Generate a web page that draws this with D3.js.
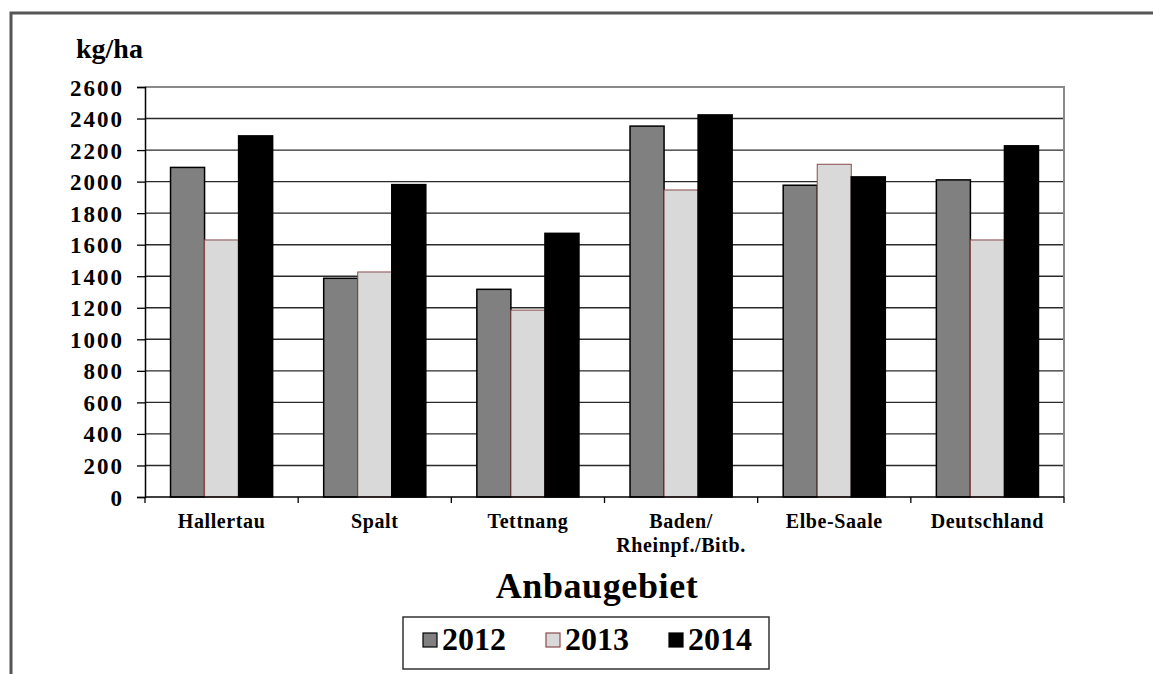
<!DOCTYPE html>
<html>
<head>
<meta charset="utf-8">
<script src="https://cdn.jsdelivr.net/npm/d3@7"></script>
<style>
    body { margin: 0; background: #fff; }
    text { font-family: "Liberation Serif", "Times New Roman", serif; font-weight: bold; fill: #000; }
</style>
</head>
<body>
<div id="chart-area"></div>
<script>

// DATA (kg/ha)
let regions = ["Hallertau", "Spalt", "Tettnang", "Baden/\nRheinpf./Bitb.", "Elbe-Saale", "Deutschland"]
let years = ["2012", "2013", "2014"]
let values2012 = [2090, 1387, 1317, 2352, 1977, 2011]
let values2013 = [1630, 1427, 1185, 1947, 2110, 1630]
let values2014 = [2290, 1981, 1672, 2423, 2030, 2227]
let yTicks = [0, 200, 400, 600, 800, 1000, 1200, 1400, 1600, 1800, 2000, 2200, 2400, 2600]

let seriesValues = {"2012": values2012, "2013": values2013, "2014": values2014}
let fills = {"2012": "#808080", "2013": "#d9d9d9", "2014": "#000000"}
let strokes = {"2012": "#000000", "2013": "#8b4b4b", "2014": "#000000"}

// margin conventions
let margin = {top: 87, right: 89, bottom: 177, left: 145},
    width = 1153 - margin.left - margin.right,
    height = 674 - margin.top - margin.bottom;

let root = d3.select("#chart-area").append("svg")
    .attr("width", 1153)
    .attr("height", 674)

// outer frame (only top and left visible)
root.append("path")
    .attr("d", "M11,674 V13 H1153")
    .attr("fill", "none")
    .attr("stroke", "#555")
    .attr("stroke-width", 3)

let svg = root.append("g")
    .attr("transform", "translate(" + margin.left + "," + margin.top + ")");

let x0 = d3.scaleBand().domain(regions).range([0, width])
let x1 = d3.scaleBand().domain(years).range([0, x0.bandwidth()]).paddingOuter(0.75)
let y = d3.scaleLinear().domain([0, 2600]).range([height, 0])

// gridlines
svg.selectAll(".grid").data(yTicks.filter(t => t > 0 && t < 2600))
    .enter().append("line")
    .attr("class", "grid")
    .attr("x1", 0).attr("x2", width)
    .attr("y1", d => y(d)).attr("y2", d => y(d))
    .attr("stroke", "#2a2a2a")
    .attr("stroke-width", 1.4)

// plot border top + right
svg.append("path")
    .attr("d", "M0," + y(2600) + " H" + width + " V" + height)
    .attr("fill", "none")
    .attr("stroke", "#8a8a8a")
    .attr("stroke-width", 2)

// bars
let rows = []
regions.forEach(function (r, i) {
    years.forEach(function (yr) {
        rows.push({region: r, year: yr, value: seriesValues[yr][i]})
    })
})

svg.selectAll(".bar").data(rows)
    .enter().append("rect")
    .attr("class", "bar")
    .attr("x", d => x0(d.region) + x1(d.year))
    .attr("y", d => y(d.value))
    .attr("width", x1.bandwidth())
    .attr("height", d => height - y(d.value))
    .attr("fill", d => fills[d.year])
    .attr("stroke", d => strokes[d.year])
    .attr("stroke-width", d => d.year === "2013" ? 1 : 1.5)

// y axis
let yAxis = svg.append("g")
    .call(d3.axisLeft(y).tickValues(yTicks).tickFormat(d3.format("d")).tickSize(8).tickPadding(13))
yAxis.select(".domain").attr("stroke", "#000").attr("stroke-width", 1.5)
yAxis.selectAll(".tick line").attr("stroke", "#000").attr("stroke-width", 1.3)
yAxis.selectAll(".tick text")
    .attr("font-size", 23)
    .attr("font-family", "Liberation Serif")
    .attr("font-weight", "bold")
    .attr("dy", "0.35em")
    .attr("letter-spacing", 2)

// x axis: line + ticks on category boundaries
svg.append("line")
    .attr("x1", 0).attr("x2", width)
    .attr("y1", height).attr("y2", height)
    .attr("stroke", "#000").attr("stroke-width", 1.5)

let boundaries = regions.map(r => x0(r)).concat([width])
svg.selectAll(".xtick").data(boundaries)
    .enter().append("line")
    .attr("class", "xtick")
    .attr("x1", d => d).attr("x2", d => d)
    .attr("y1", height).attr("y2", height + 6)
    .attr("stroke", "#000").attr("stroke-width", 1.3)

let xLabels = svg.selectAll(".xlabel").data(regions)
    .enter().append("text")
    .attr("class", "xlabel")
    .attr("text-anchor", "middle")
    .attr("font-size", 20)
    .attr("letter-spacing", 0.6)
    .attr("transform", d => "translate(" + (x0(d) + x0.bandwidth() / 2) + "," + (height + 31) + ")")

xLabels.selectAll("tspan").data(d => d.split("\n"))
    .enter().append("tspan")
    .attr("x", 0)
    .attr("y", (d, i) => i * 24)
    .text(d => d)

// unit label
svg.append("text")
    .attr("x", -69)
    .attr("y", -29)
    .attr("font-size", 28)
    .text("kg/ha")

// axis title
svg.append("text")
    .attr("x", 452)
    .attr("y", height + 101)
    .attr("text-anchor", "middle")
    .attr("font-size", 36)
    .attr("letter-spacing", 0.6)
    .text("Anbaugebiet")

// legend
let legend = root.append("g").attr("transform", "translate(403,617)")
legend.append("rect")
    .attr("width", 366).attr("height", 52)
    .attr("fill", "#fff")
    .attr("stroke", "#333").attr("stroke-width", 1.5)

let items = legend.selectAll(".item").data(years)
    .enter().append("g")
    .attr("class", "item")
    .attr("transform", (d, i) => "translate(" + (20 + i * 123) + ",0)")

items.append("rect")
    .attr("y", 16).attr("width", 14).attr("height", 14)
    .attr("fill", d => fills[d])
    .attr("stroke", d => strokes[d])
    .attr("stroke-width", 1.2)

items.append("text")
    .attr("x", 19)
    .attr("y", 33)
    .attr("font-size", 32)
    .text(d => d)

</script>
</body>
</html>
